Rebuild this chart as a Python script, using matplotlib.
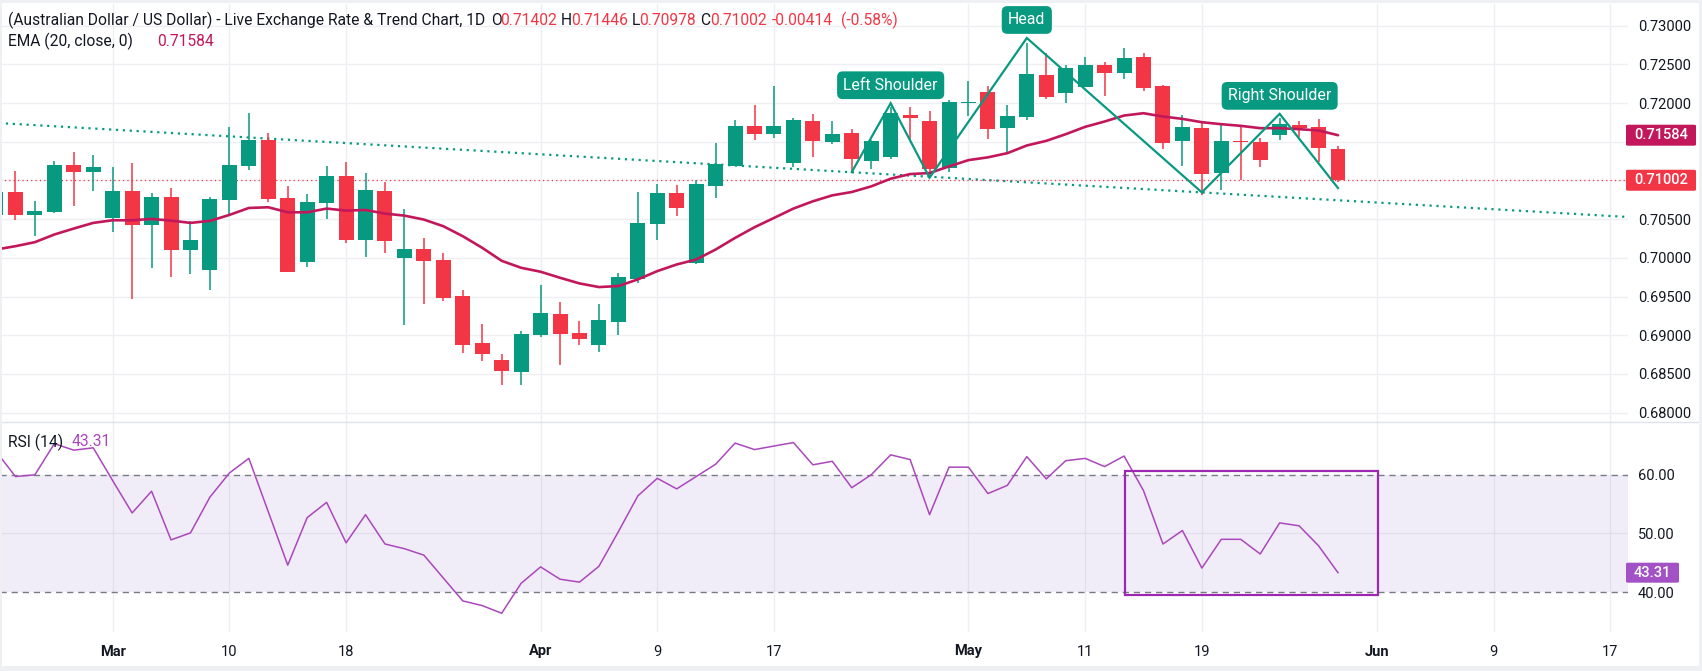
import matplotlib
matplotlib.use("Agg")
import matplotlib.pyplot as plt
from matplotlib.patches import Rectangle, FancyBboxPatch
from matplotlib.lines import Line2D
import numpy as np

# ---------------- data ----------------
opens = [0.70558, 0.70846, 0.70558, 0.70597, 0.71203, 0.71112, 0.70520, 0.70868, 0.70429, 0.70790,
         0.70107, 0.69837, 0.70752, 0.71190, 0.71525, 0.70777, 0.69944, 0.70713, 0.71061, 0.70236,
         0.70868, 0.69991, 0.70120, 0.69978, 0.69501, 0.68896, 0.68677, 0.68522, 0.68999, 0.69269,
         0.69025, 0.68870, 0.69166, 0.69721, 0.70442, 0.70842, 0.69927, 0.70932, 0.71190, 0.71705,
         0.71602, 0.71228, 0.71770, 0.71499, 0.71615, 0.71254, 0.71306, 0.71847, 0.71770, 0.71164,
         0.72002, 0.72143, 0.71683, 0.71821, 0.72362, 0.72130, 0.72208, 0.72491, 0.72388, 0.72595,
         0.72221, 0.71511, 0.71679, 0.71090, 0.71503, 0.71498, 0.71589, 0.71718, 0.71692, 0.71402]
highs = [0.70900, 0.71125, 0.70739, 0.71254, 0.71370, 0.71332, 0.71177, 0.71228, 0.70842, 0.70906,
         0.70481, 0.70790, 0.71692, 0.71873, 0.71615, 0.70932, 0.70829, 0.71190, 0.71241, 0.71100,
         0.70984, 0.70636, 0.70262, 0.70056, 0.69579, 0.69141, 0.68754, 0.69050, 0.69643, 0.69424,
         0.69179, 0.69398, 0.69798, 0.70855, 0.70958, 0.70945, 0.71009, 0.71486, 0.71783, 0.71976,
         0.72221, 0.71808, 0.71860, 0.71770, 0.71667, 0.71520, 0.71950, 0.71950, 0.71899, 0.72040,
         0.72285, 0.72221, 0.71976, 0.72779, 0.72646, 0.72491, 0.72595, 0.72530, 0.72711, 0.72646,
         0.72233, 0.71847, 0.71756, 0.71743, 0.71705, 0.71550, 0.71800, 0.71769, 0.71795, 0.71446]
lows = [0.70500, 0.70494, 0.70279, 0.70584, 0.70674, 0.70868, 0.70339, 0.69467, 0.69862, 0.69746,
        0.69785, 0.69583, 0.70545, 0.71138, 0.70726, 0.69815, 0.69879, 0.70507, 0.70197, 0.70004,
        0.70068, 0.69128, 0.69398, 0.69437, 0.68767, 0.68664, 0.68354, 0.68354, 0.68973, 0.68612,
        0.68870, 0.68780, 0.68999, 0.69669, 0.70236, 0.70545, 0.69920, 0.70777, 0.71190, 0.71525,
        0.71551, 0.71177, 0.71306, 0.71473, 0.71100, 0.71151, 0.71280, 0.71525, 0.71040, 0.71112,
        0.71834, 0.71541, 0.71352, 0.71782, 0.72053, 0.72001, 0.72208, 0.72092, 0.72311, 0.72156,
        0.71408, 0.71189, 0.70806, 0.70879, 0.71008, 0.71176, 0.71524, 0.71563, 0.71240, 0.70978]
closes = [0.70846, 0.70558, 0.70610, 0.71203, 0.71112, 0.71177, 0.70868, 0.70429, 0.70790, 0.70107,
          0.70236, 0.70764, 0.71203, 0.71525, 0.70764, 0.69815, 0.70726, 0.71061, 0.70236, 0.70880,
          0.70223, 0.70120, 0.69965, 0.69476, 0.68870, 0.68754, 0.68535, 0.69012, 0.69282, 0.69012,
          0.68947, 0.69192, 0.69746, 0.70455, 0.70842, 0.70648, 0.70958, 0.71216, 0.71705, 0.71602,
          0.71705, 0.71783, 0.71512, 0.71602, 0.71280, 0.71512, 0.71873, 0.71808, 0.71151, 0.72015,
          0.72015, 0.71670, 0.71834, 0.72375, 0.72079, 0.72453, 0.72491, 0.72388, 0.72582, 0.72195,
          0.71485, 0.71692, 0.71077, 0.71511, 0.71490, 0.71266, 0.71730, 0.71679, 0.71416, 0.71002]
ema20 = [0.70107, 0.70150, 0.70202, 0.70301, 0.70378, 0.70451, 0.70485, 0.70485, 0.70502, 0.70481,
         0.70451, 0.70477, 0.70554, 0.70644, 0.70653, 0.70588, 0.70588, 0.70636, 0.70610, 0.70618,
         0.70571, 0.70545, 0.70494, 0.70408, 0.70279, 0.70129, 0.69961, 0.69871, 0.69820, 0.69742,
         0.69669, 0.69622, 0.69635, 0.69721, 0.69828, 0.69914, 0.69978, 0.70107, 0.70257, 0.70395,
         0.70515, 0.70636, 0.70730, 0.70807, 0.70850, 0.70923, 0.71022, 0.71082, 0.71095, 0.71181,
         0.71262, 0.71298, 0.71352, 0.71451, 0.71511, 0.71597, 0.71692, 0.71761, 0.71838, 0.71868,
         0.71825, 0.71795, 0.71752, 0.71726, 0.71705, 0.71675, 0.71675, 0.71662, 0.71645, 0.71584]
rsi14 = [64.0, 59.7, 60.0, 65.3, 64.2, 64.6, 59.0, 53.5, 57.2, 48.9,
         50.1, 56.2, 60.3, 62.8, 53.7, 44.6, 52.7, 55.3, 48.4, 53.2,
         48.2, 47.4, 46.3, 42.4, 38.5, 37.7, 36.4, 41.5, 44.3, 42.2,
         41.7, 44.4, 50.3, 56.4, 59.4, 57.6, 59.7, 61.8, 65.4, 64.3,
         64.9, 65.5, 61.7, 62.3, 57.8, 60.0, 63.4, 62.6, 53.2, 61.3,
         61.3, 56.8, 58.2, 63.1, 59.3, 62.4, 62.8, 61.4, 63.2, 57.3,
         48.2, 50.5, 44.1, 49.0, 49.0, 46.5, 51.8, 51.3, 47.9, 43.31]

# head & shoulders pattern (trading-day index, price)
hs_idx = [44, 46, 48, 53, 62, 66, 69]
hs_price = [0.71108, 0.71997, 0.71035, 0.72840, 0.70845, 0.71860, 0.70901]
hs_labels = ["Left Shoulder", "Head", "Right Shoulder"]
hs_label_idx = [46, 53, 66]
hs_label_price = [0.71997, 0.72840, 0.71860]

# dotted trendline endpoints
trend_idx = [0, 84]
trend_price = [0.71743, 0.70526]

# RSI highlight box
box_idx = [58.05, 71.05]
box_rsi = [39.43, 60.57]

# x-axis ticks (trading-day index)
xtick_idx = [6, 12, 18, 28, 34, 40, 50, 56, 62, 71, 77, 83]
xtick_lbl = ["Mar", "10", "18", "Apr", "9", "17", "May", "11", "19", "Jun", "9", "17"]
month_lbls = {"Mar", "Apr", "May", "Jun"}
price_ticks = [0.68, 0.685, 0.69, 0.695, 0.70, 0.705, 0.71, 0.715, 0.72, 0.725, 0.73]
hidden_price_ticks = [0.71, 0.715]  # covered by the last-value boxes
rsi_ticks = [40, 50, 60]

last_close = closes[-1]
last_ema = ema20[-1]
last_rsi = rsi14[-1]

# ---------------- style ----------------
GREEN = "#089981"
RED = "#F23645"
EMA_C = "#C2185B"
RSI_C = "#AB47BC"
RSI_BOX = "#9C27B0"
TXT = "#131722"
GRID = "#EDEFF3"
FONT = "Roboto"

W, H, DPI = 1702, 671, 100
plt.rcParams["font.family"] = [FONT, "DejaVu Sans"]

fig = plt.figure(figsize=(W / DPI, H / DPI), dpi=DPI)
fig.patch.set_facecolor("white")
renderer = fig.canvas.get_renderer()


def fx(px):
    return px / W


def fy(py):
    return 1 - py / H


def fit_size(text, target_px, base=10.0, **kw):
    t = fig.text(0, 0, text, fontsize=base, **kw)
    w = t.get_window_extent(renderer).width
    t.remove()
    return base * target_px / w


HDR = fit_size("(Australian Dollar / US Dollar) - Live Exchange Rate & Trend Chart, 1D", 475)
TICK = fit_size("0.73000", 53)

PLOT_R = 1628
SEP = 422
ax = fig.add_axes([0, fy(SEP), fx(PLOT_R), fy(4) - fy(SEP)])
ax2 = fig.add_axes([0, fy(632), fx(PLOT_R), fy(SEP) - fy(632)], sharex=ax)

xmin, xmax = 0.206, 83.91
ax.set_xlim(xmin, xmax)
ax.set_ylim(0.678786, 0.732791)
ax2.set_ylim(33.2, 69.0)

for a in (ax, ax2):
    for s in a.spines.values():
        s.set_visible(False)
    a.set_facecolor("none")
    for xi in xtick_idx:
        a.axvline(xi, color=GRID, lw=1, zorder=0)

for p in price_ticks:
    ax.axhline(p, color=GRID, lw=1, zorder=0)
ax2.axhline(50, color=GRID, lw=1, zorder=0)

# ---- candles ----
x = np.arange(len(closes))
o = np.array(opens); c = np.array(closes); h = np.array(highs); l = np.array(lows)
cols = [GREEN if cc >= oo else RED for oo, cc in zip(o, c)]
ax.vlines(x, l, h, colors=cols, lw=1.1, zorder=3)
bottoms = np.minimum(o, c)
heights = np.maximum(np.abs(c - o), 0.00014)
ax.bar(x, heights, bottom=bottoms, width=0.77, color=cols, edgecolor="none", zorder=4)

# EMA
ax.plot(x, ema20, color=EMA_C, lw=1.9, zorder=5, solid_capstyle="round")

# trendline (dotted)
ax.plot(trend_idx, trend_price, color=GREEN, lw=1.6, linestyle=(0, (1, 2.1)), zorder=2)

# last price line
ax.axhline(last_close, color=RED, lw=0.9, linestyle=(0, (1, 2.5)), zorder=2)

# head & shoulders
ax.plot(hs_idx, hs_price, color=GREEN, lw=1.6, zorder=6, solid_joinstyle="miter")
for lbl, li, lp in zip(hs_labels, hs_label_idx, hs_label_price):
    ax.annotate(lbl, xy=(li, lp), xytext=(0, 18), textcoords="offset pixels",
                ha="center", va="center", color="white", fontsize=HDR * 1.02,
                bbox=dict(boxstyle="round,pad=0.4,rounding_size=0.35", fc=GREEN, ec="none"),
                zorder=8, annotation_clip=False)

# ---- RSI pane ----
ax2.fill_between([xmin, xmax], 40, 60, color="#7E57C2", alpha=0.10, lw=0, zorder=1)
ax2.axhline(60, color="#787B86", lw=1, linestyle=(0, (4.5, 3.5)), zorder=2)
ax2.axhline(40, color="#787B86", lw=1, linestyle=(0, (4.5, 3.5)), zorder=2)
ax2.plot(x, rsi14, color=RSI_C, lw=1.1, zorder=4)
ax2.add_patch(Rectangle((box_idx[0], box_rsi[0]), box_idx[1] - box_idx[0], box_rsi[1] - box_rsi[0],
                        fill=False, ec=RSI_BOX, lw=1.6, zorder=5))

# ---- axes ticks ----
ax.yaxis.tick_right()
ax.set_yticks(price_ticks)
ax.set_yticklabels(["" if any(abs(p - hp) < 1e-9 for hp in hidden_price_ticks) else f"{p:.5f}"
                    for p in price_ticks])
ax.tick_params(axis="y", length=0, pad=7, labelsize=TICK, labelcolor=TXT)
ax.tick_params(axis="x", length=0, labelbottom=False)

ax2.yaxis.tick_right()
ax2.set_yticks(rsi_ticks)
ax2.set_yticklabels([f"{r:.2f}" for r in rsi_ticks])
ax2.tick_params(axis="y", length=0, pad=7, labelsize=TICK, labelcolor=TXT)
ax2.set_xticks(xtick_idx)
ax2.set_xticklabels(xtick_lbl)
ax2.tick_params(axis="x", length=0, pad=9, labelsize=TICK, labelcolor=TXT)
for t in ax2.get_xticklabels():
    if t.get_text() in month_lbls:
        t.set_fontweight("bold")

# ---- value boxes on right scale ----
def value_box(axis, value, text, color, width_px, height_px):
    ypix = axis.transData.transform((0, value))[1]
    x0 = 1626
    fig.add_artist(FancyBboxPatch((fx(x0), (ypix - height_px / 2) / H), fx(width_px), height_px / H,
                                  boxstyle="round,pad=0,rounding_size=0.0015",
                                  transform=fig.transFigure, fc=color, ec="none", zorder=10))
    fig.text(fx(x0 + width_px / 2), ypix / H, text, color="white", fontsize=TICK,
             ha="center", va="center", zorder=11, fontweight="medium")


value_box(ax, last_ema, f"{last_ema:.5f}", EMA_C, 70, 21)
value_box(ax, last_close, f"{last_close:.5f}", RED, 70, 21)
value_box(ax2, last_rsi, f"{last_rsi:.2f}", "#A352C6", 53, 20)

# ---- header texts ----
y1, y2 = fy(20.6), fy(41)
fig.text(fx(8), y1, "(Australian Dollar / US Dollar) - Live Exchange Rate & Trend Chart, 1D",
         color=TXT, fontsize=HDR, va="center")
chg = last_close - closes[-2]
pct = chg / closes[-2] * 100
segs = [(491, "O", TXT), (500, f"{opens[-1]:.5f}", RED),
        (561, "H", TXT), (571, f"{highs[-1]:.5f}", RED),
        (632, "L", TXT), (639, f"{lows[-1]:.5f}", RED),
        (700, "C", TXT), (710, f"{closes[-1]:.5f}", RED),
        (772, f"{chg:.5f}", RED), (841, f"({pct:.2f}%)", RED)]
for px, s, col in segs:
    fig.text(fx(px), y1, s, color=col, fontsize=HDR, va="center")
fig.text(fx(8), y2, "EMA (20, close, 0)", color=TXT, fontsize=HDR, va="center")
fig.text(fx(157), y2, f"{last_ema:.5f}", color=EMA_C, fontsize=HDR, va="center")
fig.text(fx(8), fy(442), "RSI (14)", color=TXT, fontsize=HDR, va="center")
fig.text(fx(72), fy(442), f"{last_rsi:.2f}", color=RSI_C, fontsize=HDR, va="center")

# ---- pane separator and frame ----
fig.add_artist(Line2D([0, fx(1699)], [fy(SEP), fy(SEP)], transform=fig.transFigure,
                      color="#E0E3EB", lw=1, zorder=9))
BORDER = "#EEF0F4"
for rx, ry, rw, rh in [(0, 0, W, 3), (0, H - 5, W, 5), (0, 0, 2, H), (W - 3, 0, 3, H)]:
    fig.add_artist(Rectangle((fx(rx), fy(ry + rh)), fx(rw), rh / H, transform=fig.transFigure,
                             fc=BORDER, ec="none", zorder=12))

fig.savefig("out.png", dpi=DPI, facecolor="white")
